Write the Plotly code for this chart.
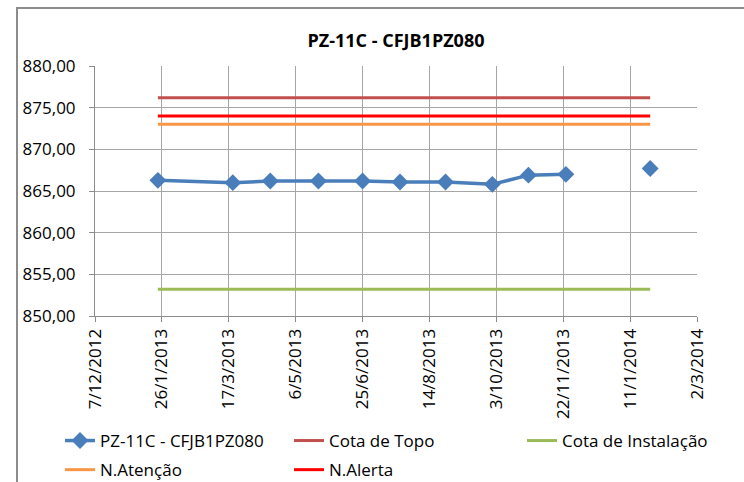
import plotly.graph_objects as go
from datetime import datetime

title = "PZ-11C - CFJB1PZ080"

dates = ["2013-01-23", "2013-03-20", "2013-04-17", "2013-05-23", "2013-06-25",
         "2013-07-23", "2013-08-26", "2013-09-30", "2013-10-27", "2013-11-24",
         "2013-12-26", "2014-01-26"]
levels = [866.28, 866.00, 866.20, 866.20, 866.20, 866.08, 866.08, 865.80,
          866.90, 867.00, None, 867.70]

cota_topo = 876.2
cota_instalacao = 853.2
n_atencao = 873.0
n_alerta = 874.0

x_tick_labels = ["7/12/2012", "26/1/2013", "17/3/2013", "6/5/2013", "25/6/2013",
                 "14/8/2013", "3/10/2013", "22/11/2013", "11/1/2014", "2/3/2014"]
y_ticks = [850, 855, 860, 865, 870, 875, 880]

tick_vals = [datetime.strptime(t, "%d/%m/%Y") for t in x_tick_labels]
line_x = [dates[0], dates[-1]]

FONT = "Open Sans, Noto Sans, sans-serif"

fig = go.Figure()
fig.add_trace(go.Scatter(
    x=dates, y=levels, name="PZ-11C - CFJB1PZ080", mode="lines+markers",
    line=dict(color="#4A7EBB", width=3.5), connectgaps=False,
    marker=dict(symbol="diamond", size=13, color="#4A7EBB"),
    legend="legend", legendgroup="a"))
fig.add_trace(go.Scatter(x=line_x, y=[cota_topo] * 2, name="Cota de Topo",
                         mode="lines", line=dict(color="#C0504D", width=3),
                         legend="legend2", legendgroup="b"))
fig.add_trace(go.Scatter(x=line_x, y=[cota_instalacao] * 2, name="Cota de Instalação",
                         mode="lines", line=dict(color="#9BBB59", width=3),
                         legend="legend3", legendgroup="c"))
fig.add_trace(go.Scatter(x=line_x, y=[n_atencao] * 2, name="N.Atenção",
                         mode="lines", line=dict(color="#F79646", width=3),
                         legend="legend", legendgroup="d"))
fig.add_trace(go.Scatter(x=line_x, y=[n_alerta] * 2, name="N.Alerta",
                         mode="lines", line=dict(color="#FF0000", width=3),
                         legend="legend2", legendgroup="e"))

W, H = 744, 482
L, R, T, B = 95, 47, 66, 166
pw, ph = W - L - R, H - T - B

def px(xp):
    return (xp - L) / pw

def py(yp):
    return (H - B - yp) / ph

def leg(xp):
    return dict(orientation="v", x=px(xp), y=py(423), xanchor="left", yanchor="top",
                font=dict(size=17, family=FONT), bgcolor="rgba(0,0,0,0)",
                tracegroupgap=4, borderwidth=0)

fig.update_layout(
    width=W, height=H, paper_bgcolor="white", plot_bgcolor="white",
    margin=dict(l=L, r=R, t=T, b=B, autoexpand=False),
    separators=",.",
    font=dict(family=FONT, size=17, color="black"),
    title=dict(text="<b>" + title + "</b>", x=0.5, xref="paper", xanchor="center",
               y=1 - 41 / H, yanchor="middle", font=dict(size=18)),
    showlegend=True,
    legend=leg(60), legend2=leg(289), legend3=leg(522),
    shapes=[dict(type="rect", xref="paper", yref="paper",
                 x0=px(17), x1=px(800), y0=py(8), y1=py(560),
                 line=dict(color="#8c8c8c", width=2), layer="below")],
)
fig.update_xaxes(
    type="date", range=[tick_vals[0], tick_vals[-1]],
    tickvals=tick_vals, ticktext=x_tick_labels, tickangle=-90,
    showgrid=True, gridcolor="#a6a6a6", gridwidth=1,
    showline=True, linecolor="#8c8c8c", linewidth=1,
    ticks="outside", ticklen=5, tickcolor="#8c8c8c",
    tickfont=dict(size=17), zeroline=False)
fig.update_yaxes(
    range=[850, 880], tickvals=y_ticks, tickformat=".2f",
    showgrid=True, gridcolor="#a6a6a6", gridwidth=1,
    showline=True, linecolor="#8c8c8c", linewidth=1,
    ticks="outside", ticklen=5, tickcolor="#8c8c8c",
    ticklabelstandoff=10,
    tickfont=dict(size=17), zeroline=False)

fig.write_html("out.html", config={"displayModeBar": False},
               post_script="document.body.style.margin='0px';")
